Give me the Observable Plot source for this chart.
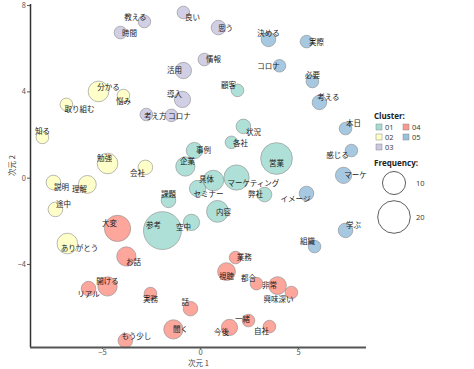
<!DOCTYPE html>
<html>
<head>
<meta charset="utf-8">
<script src="https://cdn.jsdelivr.net/npm/d3@7"></script>
<script src="https://cdn.jsdelivr.net/npm/@observablehq/plot@0.6"></script>
<style>
  html, body { margin: 0; padding: 0; background: #fff; }
  #wrap { position: relative; width: 474px; height: 369px; }
  #legend { position: absolute; left: 0; top: 0; }
</style>
</head>
<body>
<div id="wrap"></div>
<script>
const words = ["教える","時間","良い","思う","情報","活用","導入","考え方","コロナ",
  "決める","実際","コロナ","必要","考える","本日","感じる","マーケ","イメージ","学ぶ","組織",
  "顧客","状況","各社","事例","企業","営業","具体","マーケティング","セミナー","弊社","課題","内容","空中","参考",
  "分かる","悩み","取り組む","知る","勉強","会社","説明","理解","途中","ありがとう",
  "大変","お話","開ける","リアル","実務","もう少し","聞く","業務","視聴","都合","非常","興味深い","話","一緒","今後","自社"];
const clusters = ["03","03","03","03","03","03","03","03","03",
  "05","05","05","05","05","05","05","05","05","05","05",
  "01","01","01","01","01","01","01","01","01","01","01","01","01","01",
  "02","02","02","02","02","02","02","02","02","02",
  "04","04","04","04","04","04","04","04","04","04","04","04","04","04","04","04"];
const dim1 = [-2.86,-4.08,-0.87,0.92,0.20,-0.87,-0.92,-2.76,-1.48,
  3.47,5.41,4.03,5.71,6.07,7.40,7.70,7.30,5.41,7.40,5.82,
  1.89,2.19,1.58,-0.31,-0.77,3.88,0.66,1.84,-0.15,3.27,-1.63,0.87,-0.46,-1.94,
  -5.20,-3.93,-6.84,-8.06,-4.74,-2.81,-7.50,-5.77,-7.40,-6.79,
  -4.23,-3.78,-4.74,-5.71,-2.55,-3.83,-1.38,1.79,1.33,2.86,3.93,4.64,-0.51,2.45,1.48,3.52];
const dim2 = [7.26,6.75,7.68,6.98,5.50,4.99,3.65,2.95,2.91,
  6.43,6.33,5.21,4.48,3.51,2.30,1.28,0.13,-0.71,-2.42,-3.17,
  4.07,2.40,1.66,1.28,0.54,0.91,-0.11,0.03,-0.48,-0.76,-1.03,-1.54,-2.05,-2.43,
  4.02,3.83,3.42,1.89,0.68,0.50,-0.20,-0.29,-1.45,-3.03,
  -2.33,-3.63,-5.02,-5.12,-5.35,-7.53,-7.01,-3.68,-4.33,-4.89,-4.98,-5.30,-6.05,-6.60,-6.92,-6.88];
const freq = [3,3,3,4,3,5,5,3,3,
  4,3,3,3,4,3,3,5,4,4,3,
  3,4,3,5,7,19,8,12,5,4,4,9,5,27,
  8,3,3,3,8,4,4,6,4,8,
  13,7,7,4,3,4,7,3,6,3,6,3,4,3,5,3];
const labelX = [-3.32,-3.62,-0.41,1.28,0.66,-1.33,-1.33,-2.30,-1.07,
  3.47,5.92,3.47,5.71,6.53,7.81,6.99,7.91,4.85,7.81,5.46,
  1.43,2.70,2.04,0.15,-0.66,3.88,0.31,2.70,0.41,2.81,-1.63,1.17,-0.87,-2.40,
  -4.69,-3.93,-6.17,-8.06,-4.90,-3.21,-7.09,-6.17,-6.99,-6.17,
  -4.64,-3.42,-4.74,-5.71,-2.55,-3.27,-1.02,2.24,1.33,2.45,3.52,3.98,-0.77,2.14,1.07,3.11];
const labelY = [7.45,6.71,7.45,6.94,5.50,4.99,3.88,2.86,2.86,
  6.71,6.29,5.17,4.76,3.74,2.54,1.05,0.13,-0.99,-2.19,-2.94,
  4.30,2.12,1.61,1.28,0.77,0.68,-0.06,-0.25,-0.76,-0.76,-0.76,-1.59,-2.29,-2.19,
  4.20,3.56,3.19,2.17,0.91,0.22,-0.43,-0.52,-1.22,-3.26,
  -2.10,-3.91,-4.79,-5.39,-5.62,-7.34,-7.01,-3.68,-4.56,-4.65,-4.98,-5.62,-5.76,-6.56,-7.15,-7.11];
const clusterNames = ["01","02","03","04","05"];
const clusterColors = ["#8DD3C7","#FFFFB3","#BEBADA","#FB8072","#80B1D3"];
const sizeBreaks = [10, 20];
const xTicks = [-5, 0, 5];
const yTicks = [-4, 0, 4, 8];

const rows = words.map((w, i) => ({w, c: clusters[i], x: dim1[i], y: dim2[i], f: freq[i], lx: labelX[i], ly: labelY[i]}));
const xDom = [-8.67, 8.47], yDom = [-7.85, 8.05];
const jp = "'Noto Sans CJK JP', 'Noto Sans', sans-serif";

const chart = Plot.plot({
  width: 474, height: 369,
  marginLeft: 30, marginRight: 108, marginTop: 4, marginBottom: 22,
  style: {fontFamily: jp, background: "#fff"},
  x: {domain: xDom, label: null},
  y: {domain: yDom, label: null},
  r: {type: "sqrt", domain: [0, 20], range: [0, 16.3]},
  color: {domain: clusterNames, range: clusterColors},
  marks: [
    Plot.dot(rows, {x: "x", y: "y", r: "f", fill: "c", fillOpacity: 0.7, stroke: "#8a8a8a", strokeWidth: 0.6, sort: {channel: "-r"}}),
    Plot.text(rows, {x: "lx", y: "ly", text: "w", fontSize: 7.5, fill: "#1a1a1a"}),
    Plot.ruleX([xDom[0]], {stroke: "#333", strokeWidth: 1.5}),
    Plot.ruleY([yDom[0]], {stroke: "#555", strokeWidth: 1.8}),
    Plot.axisX({ticks: xTicks, tickSize: 2, tickPadding: 0.5, fontSize: 7.5, color: "#555", label: null}),
    Plot.axisY({ticks: yTicks, tickSize: 3, tickPadding: 1.5, fontSize: 7.5, color: "#555", label: null}),
    Plot.text(["次元 1"], {frameAnchor: "bottom", dy: 18, fontSize: 7.5, fill: "#444"}),
    Plot.text(["次元 2"], {frameAnchor: "left", dx: -18, rotate: -90, fontSize: 7.5, fill: "#444"})
  ]
});
const wrap = document.getElementById("wrap");
wrap.appendChild(chart);

// legend overlay
const rScale = chart.scale("r");
const rad = v => 16.3 * Math.sqrt(v / 20);
const svg = d3.select(wrap).append("svg").attr("id", "legend")
  .attr("width", 474).attr("height", 369)
  .style("font-family", "'Open Sans', 'Liberation Sans', sans-serif");
svg.append("text").attr("x", 374).attr("y", 119).attr("font-size", 8).attr("font-weight", "bold").attr("fill", "#222").text("Cluster:");
const pos = [[376,124],[376,134],[376,144],[403,124],[403,134]];
clusterNames.forEach((c, i) => {
  const [px, py] = pos[i];
  svg.append("rect").attr("x", px).attr("y", py).attr("width", 6).attr("height", 6)
    .attr("fill", clusterColors[i]).attr("fill-opacity", 0.8).attr("stroke", "#888").attr("stroke-width", 0.5);
  svg.append("text").attr("x", px + 9).attr("y", py + 6).attr("font-size", 7.5).attr("fill", "#333").text(c);
});
svg.append("text").attr("x", 374).attr("y", 166).attr("font-size", 8).attr("font-weight", "bold").attr("fill", "#222").text("Frequency:");
const cy = [183, 217];
sizeBreaks.forEach((v, i) => {
  svg.append("circle").attr("cx", 394).attr("cy", cy[i]).attr("r", rScale ? rScale.apply(v) : rad(v))
    .attr("fill", "none").attr("stroke", "#333").attr("stroke-width", 0.8);
  svg.append("text").attr("x", 416).attr("y", cy[i] + 3).attr("font-size", 7.5).attr("fill", "#333").text(v);
});
</script>
</body>
</html>
